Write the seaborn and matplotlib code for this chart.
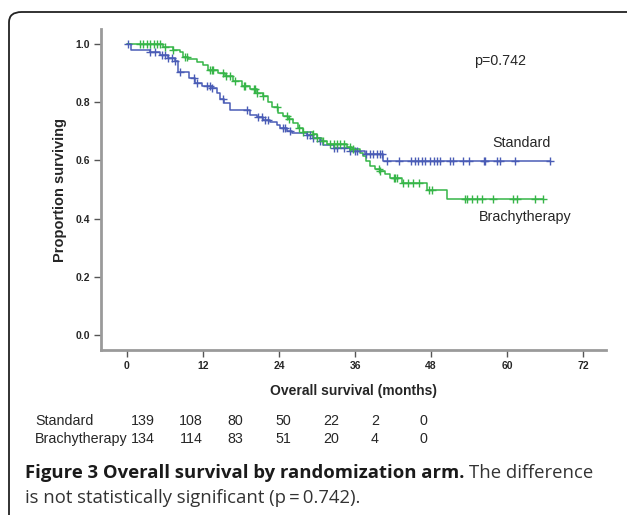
import matplotlib
matplotlib.use("Agg")
import matplotlib.pyplot as plt
import numpy as np
import seaborn as sns
from matplotlib.patches import FancyBboxPatch

# Kaplan-Meier steps: survival drops to s at time t (months)
std_t = [0, 0.7, 3.6, 5.2, 6.5, 7.6, 8.1, 9.8, 10.8, 11.8, 13.4, 14.2, 14.7, 15.3, 16.3,
         19.4, 20.5, 21.5, 22.6, 23.6, 24.2, 25.2, 26.0, 28.4, 29.4, 30.5, 31.0, 32.6,
         35.2, 37.6, 40.4]
std_s = [1.0, 0.979, 0.971, 0.962, 0.952, 0.942, 0.905, 0.882, 0.866, 0.856, 0.848, 0.83,
         0.81, 0.796, 0.773, 0.756, 0.748, 0.739, 0.733, 0.722, 0.71, 0.70, 0.695, 0.688,
         0.678, 0.665, 0.652, 0.643, 0.632, 0.622, 0.598]
std_cens = [0.2, 3.6, 4.4, 5.5, 6.0, 6.5, 7.1, 7.6, 8.4, 10.5, 11.0, 12.6, 13.1, 13.4, 15.2,
            18.9, 20.7, 21.3, 21.8, 22.3, 24.7, 24.9, 25.7, 28.4, 28.9, 29.4, 30.5, 32.6,
            33.1, 34.2, 35.2, 36.0, 36.3, 37.8, 38.4, 38.9, 39.4, 40.0, 40.2, 41.0, 43.0,
            44.9, 45.5, 46.0, 46.5, 47.1, 47.8, 48.4, 48.9, 49.4, 51.0, 51.5, 53.1, 53.9,
            56.3, 56.5, 58.4, 58.9, 61.3, 66.8]

bra_t = [0, 5.7, 7.3, 8.4, 8.9, 9.7, 11.0, 12.0, 12.8, 14.4, 15.5, 16.8, 18.2, 19.4, 20.5,
         21.5, 22.3, 22.9, 23.9, 24.7, 25.4, 26.2, 27.0, 27.8, 29.4, 30.0, 30.8, 31.6, 34.7,
         35.5, 36.8, 37.3, 37.7, 38.4, 39.2, 40.0, 40.7, 41.5, 43.4, 47.4, 50.5]
bra_s = [1.0, 0.99, 0.98, 0.971, 0.954, 0.947, 0.937, 0.928, 0.911, 0.902, 0.889, 0.874,
         0.856, 0.845, 0.833, 0.82, 0.799, 0.782, 0.764, 0.753, 0.741, 0.73, 0.713, 0.698,
         0.69, 0.678, 0.667, 0.658, 0.647, 0.638, 0.626, 0.615, 0.598, 0.581, 0.571, 0.563,
         0.552, 0.54, 0.523, 0.50, 0.466]
bra_cens = [2.1, 2.6, 3.1, 3.6, 4.2, 4.7, 5.2, 6.0, 7.3, 9.2, 9.4, 13.1, 13.4, 13.6, 15.2,
            15.7, 16.3, 17.1, 18.4, 18.6, 20.0, 20.2, 20.5, 21.5, 23.6, 25.2, 25.5, 27.1,
            27.8, 29.4, 30.0, 31.0, 32.1, 32.6, 33.1, 33.6, 34.2, 35.2, 35.7, 39.7, 40.0,
            42.1, 42.3, 42.6, 43.6, 44.4, 45.2, 46.1, 47.6, 48.1, 53.4, 53.6, 54.4, 55.2,
            56.0, 57.8, 61.0, 61.5, 64.4, 65.7]

groups = ["Standard", "Brachytherapy"]
at_risk_std = [139, 108, 80, 50, 22, 2, 0]
at_risk_bra = [134, 114, 83, 51, 20, 4, 0]
p_text = "p=0.742"

blue = "#4a5cb6"
green = "#36b548"

sns.set_style("ticks")
plt.rcParams["font.family"] = ["Liberation Sans", "DejaVu Sans"]

W, H = 627, 515
fig = plt.figure(figsize=(W / 100, H / 100), dpi=100)


def fx(x):
    return x / W


def fy(y):
    return 1 - y / H


# rounded frame around the figure panel
fig.patches.append(FancyBboxPatch((fx(9), fy(560)), fx(640) - fx(9), fy(12) - fy(560),
                                  boxstyle="round,pad=0,rounding_size=0.02",
                                  transform=fig.transFigure, fill=False,
                                  edgecolor="#222222", linewidth=1.3, zorder=0))

ax = fig.add_axes([fx(101), fy(350), fx(606) - fx(101), fy(29) - fy(350)])


def km_curve(t, s, cens):
    t_end = max(max(t), max(cens))
    tt = np.append(t, t_end)
    ss = np.append(s, s[-1])
    idx = np.searchsorted(t, cens, side="right") - 1
    return tt, ss, np.asarray(s)[idx]


for t, s, cens, col in [(std_t, std_s, std_cens, blue), (bra_t, bra_s, bra_cens, green)]:
    tt, ss, cy = km_curve(t, s, cens)
    sns.lineplot(x=tt, y=ss, drawstyle="steps-post", color=col, lw=1.1, ax=ax,
                 estimator=None, sort=False)
    sns.scatterplot(x=cens, y=cy, marker="+", s=40, color=col, linewidth=1.0, ax=ax,
                    zorder=3)

ax.set_xlim(-4.1, 75.6)
ax.set_ylim(-0.0515, 1.0515)
ax.set_xticks(range(0, 73, 12))
ax.set_yticks([0.0, 0.2, 0.4, 0.6, 0.8, 1.0])
ax.set_yticklabels(["0.0", "0.2", "0.4", "0.6", "0.8", "1.0"])
for lab in ax.get_xticklabels() + ax.get_yticklabels():
    lab.set_fontweight("bold")
ax.tick_params(axis="both", labelsize=7.5, length=5, width=1.0, color="#555555", pad=3)
for side in ["top", "right"]:
    ax.spines[side].set_visible(False)
for side in ["left", "bottom"]:
    ax.spines[side].set_color("#9a9a9a")
    ax.spines[side].set_linewidth(2.0)

ax.set_xlabel("")
ax.set_ylabel("")
fig.text(fx(354), fy(391), "Overall survival (months)", fontsize=10, fontweight="bold",
         ha="center", va="center")
fig.text(fx(60), fy(190), "Proportion surviving", fontsize=10.5, fontweight="bold",
         ha="center", va="center", rotation=90)

fig.text(fx(500), fy(61), p_text, fontsize=10.3, ha="center", va="center")
fig.text(fx(522), fy(143), groups[0], fontsize=10.3, ha="center", va="center")
fig.text(fx(525), fy(217), groups[1], fontsize=10.3, ha="center", va="center")

# numbers at risk
col_x = [143, 191, 235, 283, 331, 375, 423]
for row_y, name, vals in [(421, groups[0], at_risk_std), (439, groups[1], at_risk_bra)]:
    fig.text(fx(35), fy(row_y), name, fontsize=10.3, ha="left", va="center")
    for cx, v in zip(col_x, vals):
        fig.text(fx(cx), fy(row_y), str(v), fontsize=10.3, ha="center", va="center")

# caption
cap_font = ["Open Sans", "DejaVu Sans"]
t1 = fig.text(fx(25), fy(473), "Figure 3 Overall survival by randomization arm.",
              fontsize=13.3, fontweight="bold", family=cap_font, color="#1a1a1a",
              ha="left", va="center")
fig.canvas.draw()
bb = t1.get_window_extent(renderer=fig.canvas.get_renderer())
fig.text((bb.x1 + 5) / W, fy(473), "The difference", fontsize=13.3, family=cap_font,
         color="#333333", ha="left", va="center")
fig.text(fx(25), fy(498), "is not statistically significant (p\u2009=\u20090.742).",
         fontsize=13.3, family=cap_font, color="#333333", ha="left", va="center")

fig.savefig("out.png", dpi=100)
